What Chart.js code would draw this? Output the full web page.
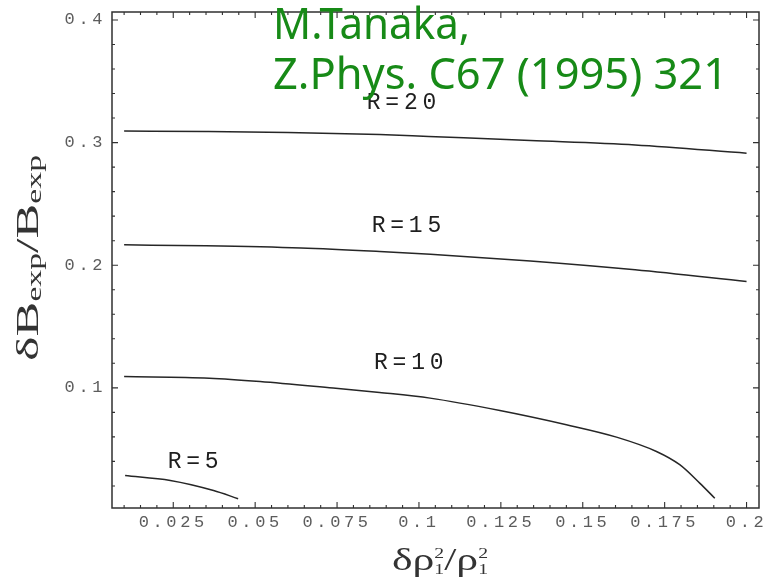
<!DOCTYPE html>
<html>
<head>
<meta charset="utf-8">
<script src="https://cdn.jsdelivr.net/npm/chart.js@4/dist/chart.umd.min.js"></script>
<style>
  html, body { margin: 0; padding: 0; background: #ffffff; }
  canvas { display: block; }
</style>
</head>
<body>
<canvas id="c" width="765" height="584"></canvas>
<script>
// δB_exp/B_exp as a function of δρ1²/ρ1² for several values of R
const r5X  = [0.0103, 0.0241, 0.0373, 0.0448];
const r5Y  = [0.0285, 0.0245, 0.0163, 0.0096];

const r10X = [0.010, 0.036, 0.0515, 0.0738, 0.088, 0.1034, 0.1247, 0.145, 0.1603, 0.1725, 0.1796, 0.1857, 0.1903];
const r10Y = [0.1092, 0.1079, 0.1052, 0.0998, 0.0962, 0.0916, 0.0815, 0.0699, 0.0598, 0.0481, 0.0373, 0.0223, 0.0100];

const r15X = [0.010, 0.035, 0.064, 0.088, 0.1035, 0.134, 0.166, 0.200];
const r15Y = [0.2166, 0.2158, 0.2140, 0.2112, 0.2090, 0.2035, 0.1963, 0.1867];

const r20X = [0.010, 0.035, 0.060, 0.088, 0.103, 0.134, 0.166, 0.200];
const r20Y = [0.3095, 0.3090, 0.3082, 0.3066, 0.3050, 0.3017, 0.2981, 0.2914];

const curveNames = ['R=5', 'R=10', 'R=15', 'R=20'];
// where each curve name sits, in data units
const labelAnchorX = [0.0312, 0.0970, 0.0963, 0.0948];
const labelAnchorY = [0.0398, 0.1204, 0.2321, 0.3324];

const xTickValues = [0.025, 0.05, 0.075, 0.1, 0.125, 0.15, 0.175, 0.2];
const xTickLabels = ['0.025', '0.05', '0.075', '0.1', '0.125', '0.15', '0.175', '0.2'];
const yTickValues = [0.1, 0.2, 0.3, 0.4];
const yTickLabels = ['0.1', '0.2', '0.3', '0.4'];

const citation = ['M.Tanaka,', 'Z.Phys. C67 (1995) 321'];

const series = [[r5X, r5Y], [r10X, r10Y], [r15X, r15Y], [r20X, r20Y]];

const SERIF = '"Liberation Serif", "DejaVu Serif", serif';
const MONO = '"Liberation Mono", "DejaVu Sans Mono", monospace';

// draws a run of text pieces [{t, size, dy, stack}] horizontally scaled to a given width
function drawRich(ctx, pieces, cx, baseY, targetWidth, rotate) {
  const widthOf = p => {
    ctx.font = p.size + 'px ' + SERIF;
    if (p.stack) {
      return Math.max(...p.stack.map(s => ctx.measureText(s.t).width));
    }
    return ctx.measureText(p.t).width;
  };
  const total = pieces.reduce((s, p) => s + widthOf(p), 0);
  const sx = targetWidth / total;
  ctx.save();
  ctx.translate(cx, baseY);
  if (rotate) ctx.rotate(-Math.PI / 2);
  ctx.scale(sx, 1);
  ctx.textAlign = 'left';
  ctx.textBaseline = 'alphabetic';
  let x = -total / 2;
  for (const p of pieces) {
    ctx.font = p.size + 'px ' + SERIF;
    if (p.stack) {
      for (const s of p.stack) ctx.fillText(s.t, x, s.dy);
    } else {
      ctx.fillText(p.t, x, p.dy || 0);
    }
    x += widthOf(p);
  }
  ctx.restore();
}

function drawFit(ctx, text, x, baseY, width) {
  const w = ctx.measureText(text).width;
  ctx.save();
  ctx.translate(x, baseY);
  ctx.scale(width / w, 1);
  ctx.fillText(text, 0, 0);
  ctx.restore();
}

const framePlugin = {
  id: 'framePlugin',
  beforeDraw(chart) {
    chart.ctx.letterSpacing = '3.6px';
  },
  afterDraw(chart) {
    const { ctx, chartArea: a, scales: { x, y } } = chart;
    ctx.save();
    ctx.letterSpacing = '0px';

    // frame around the plotting area
    ctx.strokeStyle = '#303030';
    ctx.lineWidth = 1.5;
    ctx.strokeRect(a.left, a.top, a.right - a.left, a.bottom - a.top);

    // inward major and minor ticks on all four sides
    ctx.lineWidth = 1.1;
    ctx.beginPath();
    for (let k = 2; k <= 40; k++) {
      const v = k * 0.005;
      const len = k % 5 === 0 ? 6 : 3;
      const px = x.getPixelForValue(v);
      ctx.moveTo(px, a.bottom); ctx.lineTo(px, a.bottom - len);
      ctx.moveTo(px, a.top); ctx.lineTo(px, a.top + len);
    }
    for (let k = 1; k <= 20; k++) {
      const v = k * 0.02;
      const len = k % 5 === 0 ? 6 : 3;
      const py = y.getPixelForValue(v);
      ctx.moveTo(a.left, py); ctx.lineTo(a.left + len, py);
      ctx.moveTo(a.right, py); ctx.lineTo(a.right - len, py);
    }
    ctx.stroke();

    // curve names
    ctx.fillStyle = '#1e1e1e';
    ctx.font = '23px ' + MONO;
    ctx.letterSpacing = '4.8px';
    ctx.textAlign = 'center';
    ctx.textBaseline = 'middle';
    curveNames.forEach((name, i) => {
      ctx.fillText(name, x.getPixelForValue(labelAnchorX[i]) + 2, y.getPixelForValue(labelAnchorY[i]));
    });
    ctx.letterSpacing = '0px';

    // axis titles
    ctx.fillStyle = '#333333';
    drawRich(ctx, [
      { t: 'δB', size: 31 },
      { t: 'exp', size: 20, dy: 3 },
      { t: '/', size: 31 },
      { t: 'B', size: 31 },
      { t: 'exp', size: 20, dy: 3 }
    ], 38, 258, 206, true);

    drawRich(ctx, [
      { t: 'δρ', size: 31 },
      { stack: [{ t: '2', dy: -12 }, { t: '1', dy: 4 }], size: 14 },
      { t: '/', size: 31 },
      { t: 'ρ', size: 31 },
      { stack: [{ t: '2', dy: -12 }, { t: '1', dy: 4 }], size: 14 }
    ], 440, 570, 96, false);

    // citation
    ctx.fillStyle = '#178a17';
    ctx.font = '43px "Noto Sans", "Open Sans", sans-serif';
    ctx.textAlign = 'left';
    ctx.textBaseline = 'alphabetic';
    drawFit(ctx, citation[0], 273, 39, 197);
    drawFit(ctx, citation[1], 273, 89, 455);

    ctx.restore();
  }
};

new Chart(document.getElementById('c'), {
  type: 'line',
  data: {
    datasets: series.map(([xs, ys], i) => ({
      label: curveNames[i],
      data: xs.map((v, j) => ({ x: v, y: ys[j] })),
      borderColor: '#262626',
      borderWidth: 1.5,
      pointRadius: 0,
      fill: false,
      cubicInterpolationMode: 'monotone'
    }))
  },
  options: {
    responsive: false,
    animation: false,
    layout: { padding: { top: 12, right: 6, left: 0, bottom: 0 } },
    plugins: { legend: { display: false }, tooltip: { enabled: false } },
    scales: {
      x: {
        type: 'linear',
        min: 0.0063,
        max: 0.2038,
        grid: { display: false, drawTicks: false },
        border: { display: false },
        afterBuildTicks: s => { s.ticks = xTickValues.map(v => ({ value: v })); },
        afterFit: s => { s.height = 76; s.paddingLeft = 0; s.paddingRight = 0; },
        ticks: {
          callback: (v, i) => xTickLabels[i],
          font: { family: MONO, size: 17 },
          color: '#5c5c5c',
          padding: 4,
          maxRotation: 0,
          autoSkip: false
        }
      },
      y: {
        type: 'linear',
        min: 0.002,
        max: 0.4065,
        grid: { display: false, drawTicks: false },
        border: { display: false },
        afterBuildTicks: s => { s.ticks = yTickValues.map(v => ({ value: v })); },
        afterFit: s => { s.width = 112; s.paddingTop = 0; s.paddingBottom = 0; },
        ticks: {
          callback: (v, i) => yTickLabels[i],
          font: { family: MONO, size: 17 },
          color: '#5c5c5c',
          padding: 6,
          autoSkip: false
        }
      }
    }
  },
  plugins: [framePlugin]
});
</script>
</body>
</html>
